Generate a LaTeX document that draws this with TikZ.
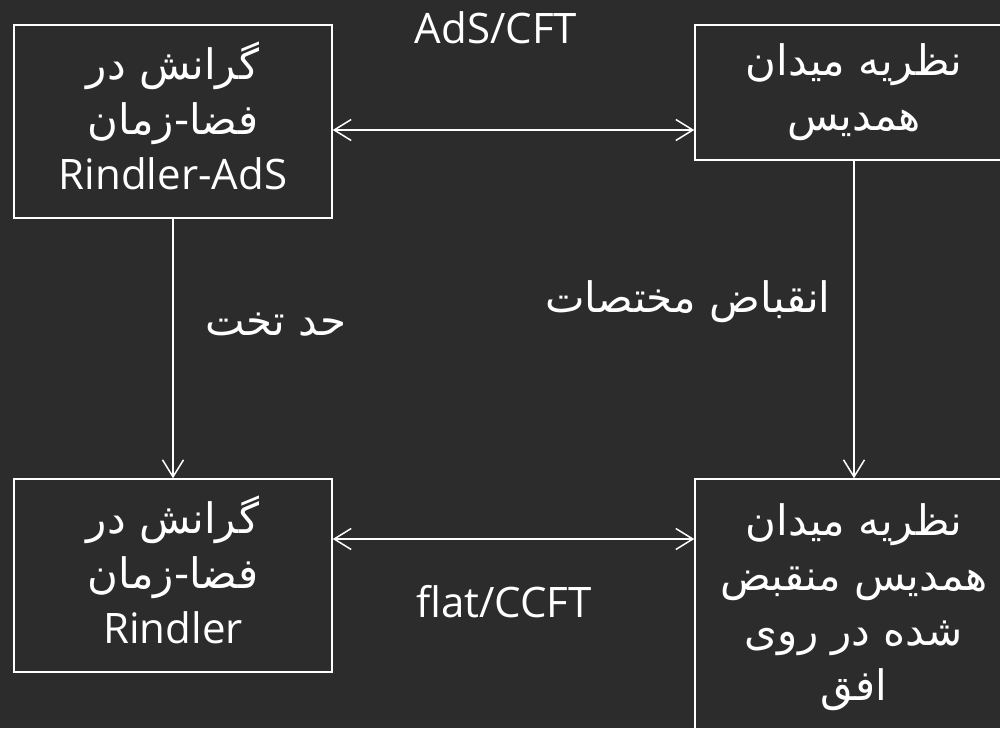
\documentclass[tikz,border=0pt]{standalone}
\usepackage{fontspec}
\setmainfont{Open Sans}
\newfontfamily\fafont[Script=Arabic]{DejaVu Sans}
\TeXXeTstate=1
\usetikzlibrary{arrows.meta, positioning}
\definecolor{board}{RGB}{44,44,44}
\newcommand{\fa}[1]{{\fafont\beginR #1\endR}}
\newcommand{\lowstrut}{\rule[-12pt]{0pt}{12pt}}

\begin{document}
\begin{tikzpicture}[x=1pt, y=-1pt,
  box/.style={draw=white, line width=1.5pt, minimum width=318pt, align=center,
    text=white, inner sep=0pt, font=\fontsize{42}{55}\selectfont},
  lbl/.style={text=white, inner sep=0pt, font=\fontsize{42}{50}\selectfont},
  link/.style={draw=white, line width=1.5pt, -{Straight Barb[length=17pt,width=21pt]}},
  bilink/.style={link, {Straight Barb[length=17pt,width=21pt]}-{Straight Barb[length=17pt,width=21pt]}}]
% Chalkboard
\fill[board] (0,0) rectangle (1000,728);
\useasboundingbox (0,0) rectangle (1000,728);
\clip (0,0) rectangle (1000,728);

% Four boxes
\node[box, minimum height=193pt] (gravads) at (173,121.5)
   {\fa{گرانش در}\\\fa{فضا-زمان}\\Rindler-AdS\lowstrut};
\node[box, minimum height=135pt] (fieldcft) at (854,92.5)
   {\fa{نظریه میدان}\\\fa{همدیس}};
\node[box, minimum height=193pt] (gravflat) at (173,575.5)
   {\fa{گرانش در}\\\fa{فضا-زمان}\\Rindler\lowstrut};
\node[box, minimum height=256pt] (fieldccft) at (854,607)
   {\fa{نظریه میدان}\\\fa{همدیس منقبض}\\\fa{شده در روی}\\\fa{افق}};

% Connectors
\draw[bilink] (gravads.east) ++(0,8.5) coordinate (top) -- (top -| fieldcft.west);
\draw[bilink] (gravflat.east) ++(0,-36.5) coordinate (bot) -- (bot -| fieldccft.west);
\draw[link] (gravads.south) -- (gravflat.north);
\draw[link] (fieldcft.south) -- (fieldccft.north);

% Labels
\node[lbl] (adscft) at (496,28) {AdS/CFT};
\node[lbl] (flatccft) at (504,602) {flat/CCFT};
\node[lbl] (flatlim) at (276,325) {\fa{حد تخت}};
\node[lbl] (contract) at (688,302) {\fa{انقباض مختصات}};
\end{tikzpicture}
\end{document}
